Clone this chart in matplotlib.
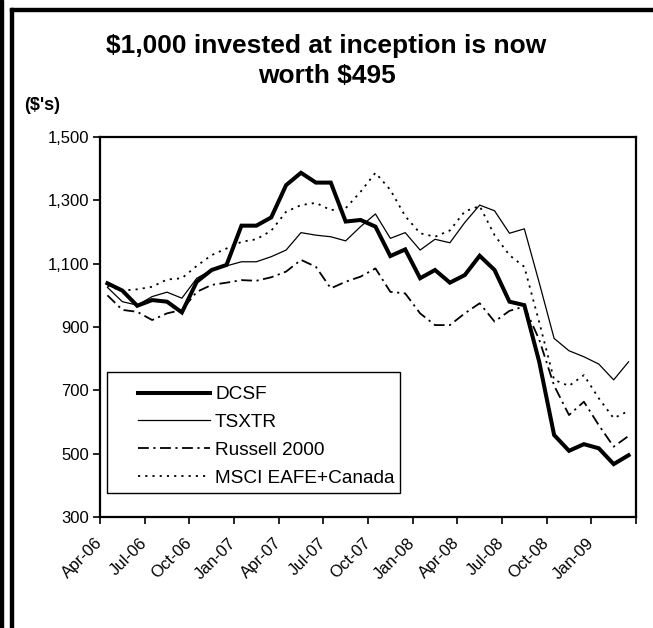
import matplotlib
matplotlib.use("Agg")
import matplotlib.pyplot as plt
from matplotlib.patches import Rectangle
import numpy as np

plt.rcParams['font.family'] = ['Liberation Sans', 'DejaVu Sans']

months = ["Apr-06", "May-06", "Jun-06", "Jul-06", "Aug-06", "Sep-06", "Oct-06", "Nov-06", "Dec-06",
          "Jan-07", "Feb-07", "Mar-07", "Apr-07", "May-07", "Jun-07", "Jul-07", "Aug-07", "Sep-07",
          "Oct-07", "Nov-07", "Dec-07", "Jan-08", "Feb-08", "Mar-08", "Apr-08", "May-08", "Jun-08",
          "Jul-08", "Aug-08", "Sep-08", "Oct-08", "Nov-08", "Dec-08", "Jan-09", "Feb-09", "Mar-09"]

dcsf = [1038, 1015, 967, 985, 980, 946, 1043, 1080, 1096, 1220, 1220, 1246, 1348, 1387, 1356, 1356,
        1233, 1238, 1217, 1124, 1145, 1054, 1080, 1040, 1064, 1125, 1080, 980, 969, 790, 559, 509,
        530, 517, 467, 495]
tsxtr = [1025, 980, 969, 996, 1010, 991, 1054, 1080, 1093, 1106, 1106, 1122, 1143, 1198, 1190, 1185,
         1172, 1217, 1257, 1180, 1198, 1143, 1177, 1166, 1230, 1285, 1267, 1196, 1210, 1040, 864, 825,
         806, 783, 733, 790]
russell = [1000, 954, 948, 922, 943, 954, 1011, 1033, 1040, 1048, 1046, 1057, 1075, 1112, 1090, 1022,
           1043, 1059, 1085, 1011, 1006, 943, 906, 906, 943, 975, 917, 951, 965, 860, 715, 622,
           664, 590, 522, 556]
msci = [1030, 1015, 1019, 1027, 1050, 1054, 1093, 1127, 1148, 1169, 1177, 1204, 1264, 1285, 1292, 1269,
        1275, 1327, 1387, 1333, 1250, 1196, 1185, 1205, 1265, 1282, 1190, 1127, 1090, 915, 733, 714,
        748, 675, 612, 635]

series_names = ["DCSF", "TSXTR", "Russell 2000", "MSCI EAFE+Canada"]
tick_labels = ["Apr-06", "Jul-06", "Oct-06", "Jan-07", "Apr-07", "Jul-07", "Oct-07", "Jan-08",
               "Apr-08", "Jul-08", "Oct-08", "Jan-09", ""]
y_ticks = [300, 500, 700, 900, 1100, 1300, 1500]

W, H = 653, 628
fig = plt.figure(figsize=(W / 100, H / 100), dpi=100)
fig.patch.set_facecolor("white")

# frame bars
fig.patches.append(Rectangle((0, 0), 3 / W, 1, transform=fig.transFigure, color="black", zorder=5))
fig.patches.append(Rectangle((10 / W, 0), 3 / W, 1 - 8 / H, transform=fig.transFigure, color="black", zorder=5))
fig.patches.append(Rectangle((10 / W, 1 - 11 / H), 1, 3 / H, transform=fig.transFigure, color="black", zorder=5))

ax = fig.add_axes([100 / W, (H - 517) / H, 536 / W, 380 / H])
x = np.arange(len(months))

ax.plot(x, dcsf, color="black", lw=2.9, solid_joinstyle="miter", label=series_names[0])
ax.plot(x, tsxtr, color="black", lw=0.9, label=series_names[1])
ax.plot(x, russell, color="black", lw=1.3, dashes=(6, 2.5, 1.2, 2.5), label=series_names[2])
ax.plot(x, msci, color="black", lw=1.3, dashes=(1.2, 2.8), label=series_names[3])

ax.set_xlim(-0.5, len(months) - 0.5)
ax.set_ylim(300, 1500)
ax.set_yticks(y_ticks)
ax.set_yticklabels([f"{v:,}" for v in y_ticks])
xt = [-0.5 + 3 * k for k in range(13)]
ax.set_xticks(xt)
ax.set_xticklabels(tick_labels, rotation=45, ha="right", va="center", rotation_mode="anchor")

for s in ax.spines.values():
    s.set_linewidth(1.6)
    s.set_color("black")
ax.tick_params(axis="both", direction="out", length=5, width=1.2, colors="black", labelsize=12)
ax.tick_params(axis="x", pad=12)
ax.tick_params(axis="y", pad=3)

# legend box
ax.add_patch(Rectangle((7 / 536, 24 / 380), 293 / 536, 121 / 380, transform=ax.transAxes,
                       facecolor="white", edgecolor="black", lw=1.0, zorder=4))
leg = ax.legend(loc="upper left", bbox_to_anchor=(38 / 536, 131 / 380), fontsize=13.7,
                frameon=False, handlelength=3.8, handletextpad=0.25, labelspacing=0.55,
                borderpad=0, borderaxespad=0)
leg.set_zorder(5)

fig.text(0.5, 1 - 34 / H, "$1,000 invested at inception is now\nworth $495", ha="center", va="top",
         fontsize=19, fontweight="bold", linespacing=1.3)
fig.text(24 / W, 1 - 105 / H, "($'s)", ha="left", va="center", fontsize=13, fontweight="bold")

fig.savefig("out.png", dpi=100)
